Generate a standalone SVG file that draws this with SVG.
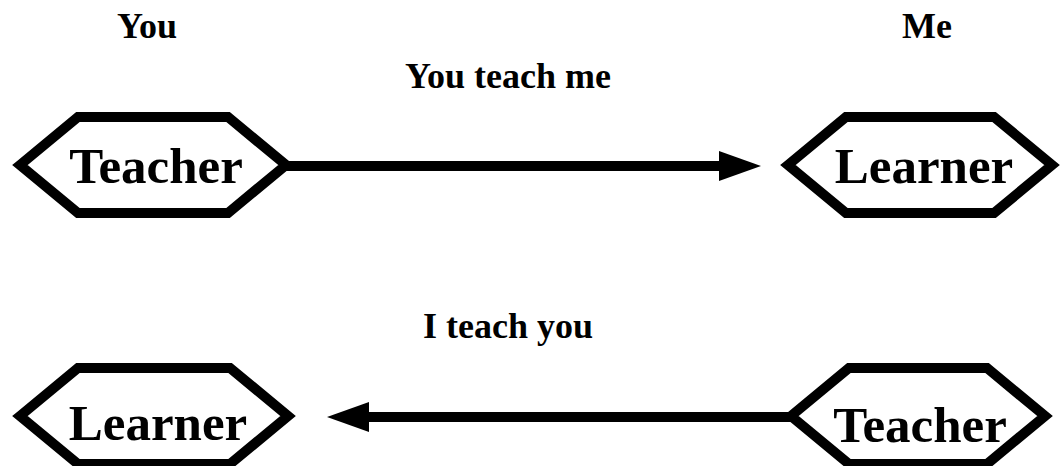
<svg xmlns="http://www.w3.org/2000/svg" width="1062" height="466" viewBox="0 0 1062 466">
<style>
.hex{fill:#fff;stroke:#000;stroke-width:10;stroke-linejoin:miter;stroke-miterlimit:10}
.node{font-family:"Liberation Serif","Times New Roman",serif;font-weight:bold;font-size:51px;text-anchor:middle;fill:#000}
.lbl{font-family:"Liberation Serif","Times New Roman",serif;font-weight:bold;font-size:36px;text-anchor:middle;fill:#000}
.edge{stroke:#000;stroke-width:10;fill:none}
</style>
<defs>
<marker id="ah" markerWidth="42" markerHeight="30" refX="0" refY="15" orient="auto" markerUnits="userSpaceOnUse">
<path d="M0,0 L42,15 L0,30 Z" fill="#000"/>
</marker>
</defs>
<rect width="1062" height="466" fill="#fff"/>
<g id="labels">
<text class="lbl" x="147" y="38">You</text>
<text class="lbl" x="927" y="38">Me</text>
<text class="lbl" x="508" y="88">You teach me</text>
<text class="lbl" x="508" y="338">I teach you</text>
</g>
<g id="connectors">
<line class="edge" x1="286" y1="166" x2="719" y2="166" marker-end="url(#ah)"/>
<line class="edge" x1="791" y1="417" x2="369" y2="417" marker-end="url(#ah)"/>
</g>
<g id="teacher-top">
<polygon class="hex" points="20,165 78,117 228,117 286,165 228,213 78,213"/>
<text class="node" x="156" y="183">Teacher</text>
</g>
<g id="learner-top">
<polygon class="hex" points="788,165 846,117 994,117 1052,165 994,213 846,213"/>
<text class="node" x="924" y="183">Learner</text>
</g>
<g id="learner-bottom">
<polygon class="hex" points="20,416 78,368 230,368 288,416 230,464 78,464"/>
<text class="node" x="158" y="440">Learner</text>
</g>
<g id="teacher-bottom">
<polygon class="hex" points="791,416 849,368 987,368 1045,416 987,464 849,464"/>
<text class="node" x="920" y="442">Teacher</text>
</g>
</svg>
